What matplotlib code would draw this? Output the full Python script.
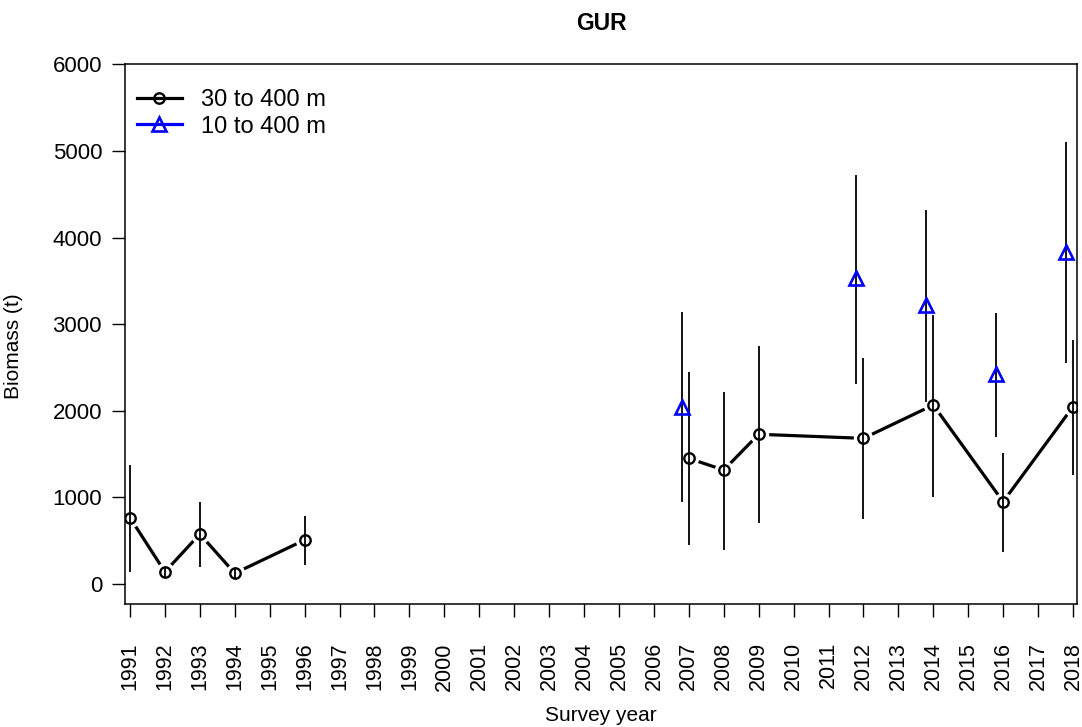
import matplotlib
matplotlib.use("Agg")
import matplotlib.pyplot as plt
from matplotlib.lines import Line2D
import numpy as np

plt.rcParams['font.family'] = ['Liberation Sans', 'DejaVu Sans']

# ---- data ----
years_30 = [1991, 1992, 1993, 1994, 1996, 2007, 2008, 2009, 2012, 2014, 2016, 2018]
biomass_30 = [766, 140, 577, 124, 508, 1451, 1316, 1729, 1682, 2067, 950, 2047]
lower_30 = [142, 85, 200, 75, 219, 450, 393, 701, 747, 1008, 373, 1259]
upper_30 = [1374, 195, 950, 175, 789, 2452, 2214, 2752, 2606, 3106, 1509, 2818]

years_10 = [2007, 2012, 2014, 2016, 2018]
biomass_10 = [2047, 3530, 3222, 2425, 3837]
lower_10 = [950, 2309, 2105, 1701, 2549]
upper_10 = [3144, 4723, 4319, 3133, 5107]

tick_years = list(range(1991, 2019))
label_30 = "30 to 400 m"
label_10 = "10 to 400 m"
title = "GUR"

offset_10 = -0.2

W, H = 1082, 727
fig = plt.figure(figsize=(W / 100, H / 100), dpi=100)
ax = fig.add_axes([125 / W, 1 - 604 / H, (1077 - 125) / W, (604 - 64) / H])

y30 = np.array(biomass_30, float)
x30 = np.array(years_30, float)

# connecting lines (two survey periods)
for mask in (x30 < 2000, x30 >= 2000):
    ax.plot(x30[mask], y30[mask], color='black', lw=2.3, zorder=1,
            solid_capstyle='butt')
# white gaps around points (R type="b")
ax.plot(x30, y30, 'o', ms=14, mfc='white', mec='none', zorder=2, linestyle='none')

# error bars
ax.vlines(x30, lower_30, upper_30, color='black', lw=1.3, zorder=3)
x10 = np.array(years_10, float) + offset_10
ax.vlines(x10, lower_10, upper_10, color='black', lw=1.3, zorder=3)

# markers
ax.plot(x30, y30, 'o', ms=7.5, mfc='none', mec='black', mew=1.7, zorder=4, linestyle='none')
ax.plot(x10, biomass_10, '^', ms=9.5, mfc='none', mec='#0000ff', mew=1.9, zorder=4, linestyle='none')

ax.set_xlim(1990.857, 2018.115)
ax.set_ylim(-231, 6005)

ax.set_xticks(tick_years)
ax.set_xticklabels([str(y) for y in tick_years], rotation=90, fontsize=15.5)
ax.set_yticks([0, 1000, 2000, 3000, 4000, 5000, 6000])
ax.set_yticklabels(['0', '1000', '2000', '3000', '4000', '5000', '6000'], fontsize=16)
ax.tick_params(axis='x', length=9.5, width=1.0, pad=18)
ax.tick_params(axis='y', length=9.5, width=1.0, pad=7)
for s in ax.spines.values():
    s.set_linewidth(1.1)

ax.set_xlabel("Survey year", fontsize=15, labelpad=11)
ax.set_ylabel("Biomass (t)", fontsize=15)
ax.yaxis.set_label_coords((23 - 125) / 952, (604 - 346) / 540)
fig.text(601 / W, 1 - 23 / H, title, ha='center', va='center', fontsize=16.5, fontweight='bold')

handles = [
    Line2D([], [], color='black', lw=2.3, marker='o', ms=7.5, mfc='none', mec='black', mew=1.7),
    Line2D([], [], color='#0000ff', lw=2.3, marker='^', ms=9.5, mfc='none', mec='#0000ff', mew=1.9),
]
ax.legend(handles, [label_30, label_10], loc='upper left', frameon=False,
          bbox_to_anchor=((137 - 125) / 952, 1 - 25 / 540), borderaxespad=0, borderpad=0,
          fontsize=17, handlelength=1.9, handletextpad=0.8, labelspacing=0.2)

fig.savefig("out.png", dpi=100)
